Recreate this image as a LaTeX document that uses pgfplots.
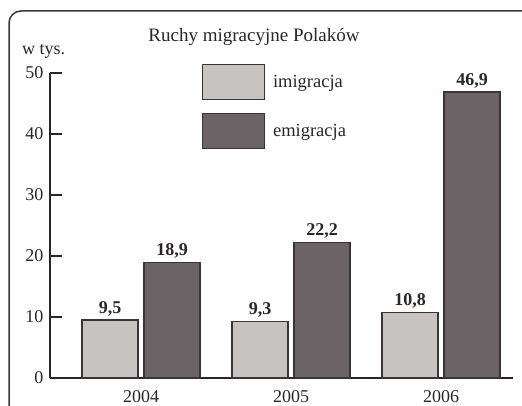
\documentclass[border=0pt]{standalone}
\usepackage{fontspec}
\setmainfont{Liberation Serif}
\usepackage{pgfplots}
\pgfplotsset{compat=1.18}
\definecolor{imi}{HTML}{C6C3C1}
\definecolor{emi}{HTML}{6C6366}
\definecolor{edge}{HTML}{3A3435}
\definecolor{txt}{HTML}{2A2526}
\begin{document}
\begin{tikzpicture}[x=1pt,y=1pt]
\begin{scope}
\clip (0,0) rectangle (522,405);
\draw[line width=1.5pt, color=edge, rounded corners=12pt] (9,-30) rectangle (560,394);
\end{scope}
\begin{axis}[
  at={(50pt,27pt)}, anchor=south west,
  scale only axis, width=463pt, height=305pt,
  xmin=-0.607, xmax=2.48, ymin=0, ymax=50,
  axis x line*=bottom, axis y line*=left,
  axis line style={line width=1.4pt, color=txt},
  ytick={0,10,...,50}, xtick={0,1,2}, xticklabels={2004,2005,2006},
  major tick length=12pt, tick align=inside,
  ytick style={line width=1.4pt, color=txt},
  xtick style={draw=none},
  ticklabel style={font=\fontsize{18}{20}\selectfont, text=txt},
  yticklabel style={xshift=-3pt},
  xticklabel style={yshift=3pt},
  /pgf/number format/assume math mode=true,
  ybar=6pt, bar width=56pt,
  nodes near coords,
  nodes near coords style={font=\bfseries\fontsize{18}{20}\selectfont, text=txt,
    /pgf/number format/use comma, /pgf/number format/fixed,
    /pgf/number format/fixed zerofill, /pgf/number format/precision=1},
  legend style={draw=none, fill=none, inner sep=0pt, outer sep=0pt,
    at={(0.328,1.03)}, anchor=north west, row sep=13pt,
    font=\fontsize{18.5}{20}\selectfont, text=txt,
    nodes={inner sep=0pt},
    /tikz/every odd column/.style={column sep=8pt}},
  legend cell align=left,
  legend image code/.code={\draw[#1] (0pt,-17.5pt) rectangle (62pt,17.5pt);},
]
\addplot[fill=imi, draw=edge, line width=1.2pt] coordinates {(0,9.5) (1,9.3) (2,10.8)};
\addplot[fill=emi, draw=edge, line width=1.2pt] coordinates {(0,18.9) (1,22.2) (2,46.9)};
\legend{imigracja, emigracja}
\end{axis}
\node[anchor=base, font=\fontsize{19}{21}\selectfont, text=txt] at (254,363) {Ruchy migracyjne Polaków};
\node[anchor=base west, font=\fontsize{18}{20}\selectfont, text=txt, inner sep=0pt] at (22,350) {w tys.};
\pgfresetboundingbox
\path[use as bounding box] (0,0) rectangle (522,405);
\end{tikzpicture}
\end{document}
